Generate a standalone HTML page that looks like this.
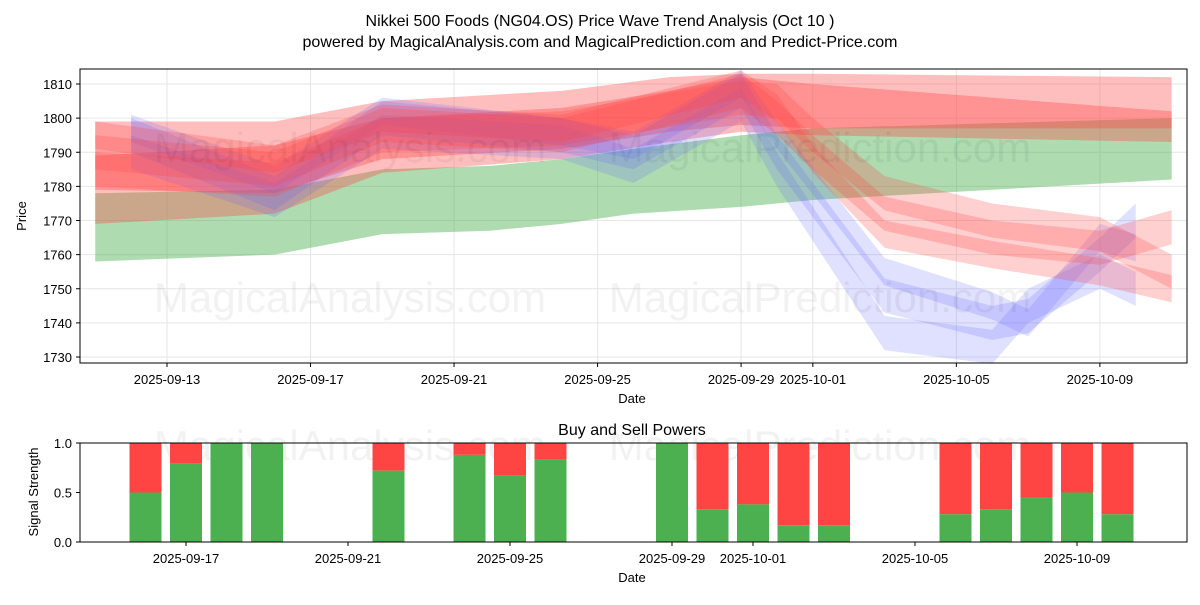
<!DOCTYPE html>
<html><head><meta charset="utf-8"><style>
body{margin:0;background:#fff;font-family:"Liberation Sans","DejaVu Sans",sans-serif}
</style></head><body>
<svg id="c" width="1200" height="600" xmlns="http://www.w3.org/2000/svg"></svg>
<script>
// ---- data ----
const topTickDays=[13,17,21,25,29,31,35,39];
const topTickLabels=["2025-09-13","2025-09-17","2025-09-21","2025-09-25","2025-09-29","2025-10-01","2025-10-05","2025-10-09"];
const priceTicks=[1730,1740,1750,1760,1770,1780,1790,1800,1810];
const greenDays=[11,16,19,22,24,26,29,31,41];
const greenLo=[1758,1760,1766,1767,1769,1772,1774,1776,1782];
const greenHi=[1778,1779,1785,1786,1788,1791,1795,1797,1800];
const redADays=[11,16,19,24,27,29,31,41];
const redALo=[1769,1772,1784,1788,1793,1796,1795,1793];
const redAHi=[1789,1792,1800,1803,1808,1812,1810,1802];
const redBLo=[1779,1778,1788,1791,1796,1798,1797,1797];
const redBHi=[1799,1799,1805,1808,1812,1813,1813,1812];
const redCDays=[11,16,19,24,29,30,31,33,36,39,41];
const redC=[1790,1785,1798,1795,1808,1800,1790,1772,1765,1762,1768];
const redD=[1785,1782,1795,1797,1806,1805,1795,1778,1770,1766,1755];
const redE=[1795,1788,1800,1797,1810,1803,1788,1766,1760,1755,1750];
const blueDays=[12,16,19,24,26,29,30,33,36,37,39,40];
const blueA=[1795,1778,1800,1795,1790,1808,1790,1748,1740,1742,1760,1770];
const blueB=[1790,1776,1796,1793,1786,1804,1785,1737,1733,1745,1755,1750];
const blueC=[1797,1782,1802,1796,1792,1810,1795,1755,1745,1740,1765,1762];
const barDays=[16,17,18,19,22,24,25,26,29,30,31,32,33,36,37,38,39,40];
const buyVals=[0.5,0.79,1.0,1.0,0.72,0.88,0.67,0.83,1.0,0.33,0.38,0.17,0.17,0.28,0.33,0.45,0.5,0.28];
const botTickDays=[17,21,25,29,31,35,39];
const sigTicks=[0,0.5,1.0];

const svg=document.getElementById('c');const NS='http://www.w3.org/2000/svg';
function el(t,a,txt){const e=document.createElementNS(NS,t);for(const k in a)e.setAttribute(k,a[k]);if(txt!==undefined)e.textContent=txt;svg.appendChild(e);return e;}
const tx=d=>167+(d-13)*35.88, ty=v=>357-(v-1730)*3.4125;
const bx=d=>186+(d-17)*40.5, by=v=>542-v*99;

let t=el('text',{x:600,y:26,'text-anchor':'middle','font-size':16},"Nikkei 500 Foods (NG04.OS) Price Wave Trend Analysis (Oct 10 )");

t=el('text',{x:600,y:47,'text-anchor':'middle','font-size':16},"powered by MagicalAnalysis.com and MagicalPrediction.com and Predict-Price.com");


priceTicks.forEach(v=>{const y=ty(v);el('line',{x1:80,x2:1187,y1:y,y2:y,stroke:'#e6e6e6'});el('line',{x1:76,x2:80,y1:y,y2:y,stroke:'#000'});
 const l=el('text',{x:72,y:y+5,'text-anchor':'end','font-size':13},v);});
topTickDays.forEach((d,i)=>{const x=tx(d);el('line',{x1:x,x2:x,y1:69,y2:363,stroke:'#e6e6e6'});el('line',{x1:x,x2:x,y1:363,y2:367,stroke:'#000'});
 const l=el('text',{x:x,y:384,'text-anchor':'middle','font-size':13},topTickLabels[i]);});

function band(days,lo,hi,color,op,name){let p=days.map((d,i)=>tx(d)+','+ty(hi[i]));for(let i=days.length-1;i>=0;i--)p.push(tx(days[i])+','+ty(lo[i]));
 const e=el('polygon',{points:p.join(' '),fill:color,'fill-opacity':op});}
function cband(days,c,hw,color,op,name){band(days,c.map(v=>v-hw),c.map(v=>v+hw),color,op,name);}
band(greenDays,greenLo,greenHi,'#4caf50',0.45,'green-band');
band(redADays,redALo,redAHi,'#ff4444',0.35,'red-band-a');
band(redADays,redBLo,redBHi,'#ff4444',0.35,'red-band-b');
cband(blueDays,blueA,5,'#6666ff',0.2,'blue-band-a');
cband(blueDays,blueB,5,'#6666ff',0.2,'blue-band-b');
cband(blueDays,blueC,4,'#6666ff',0.2,'blue-band-c');
cband(redCDays,redC,5,'#ff4444',0.25,'red-band-c');
cband(redCDays,redD,5,'#ff4444',0.25,'red-band-d');
cband(redCDays,redE,4,'#ff4444',0.25,'red-band-e');

[[350,162],[820,162],[350,312],[820,312],[350,460],[820,460]].forEach(([x,y],i)=>{const w=el('text',{x:x,y:y,'text-anchor':'middle','font-size':42,fill:'#000','fill-opacity':0.05},i%2?'MagicalPrediction.com':'MagicalAnalysis.com');});

el('rect',{x:80,y:69,width:1107,height:294,fill:'none',stroke:'#000'});
t=el('text',{x:632,y:403,'text-anchor':'middle','font-size':13},'Date');
t=el('text',{x:26,y:216,'text-anchor':'middle','font-size':13,transform:'rotate(-90 26 216)'},'Price');

t=el('text',{x:632,y:435,'text-anchor':'middle','font-size':16},'Buy and Sell Powers');
sigTicks.forEach(v=>{const y=by(v);el('line',{x1:76,x2:80,y1:y,y2:y,stroke:'#000'});
 const l=el('text',{x:72,y:y+5,'text-anchor':'end','font-size':13},v.toFixed(1));});
botTickDays.forEach((d,i)=>{const x=bx(d);el('line',{x1:x,x2:x,y1:542,y2:546,stroke:'#000'});
 const lab=topTickLabels[topTickDays.indexOf(d)];
 const l=el('text',{x:x,y:563,'text-anchor':'middle','font-size':13},lab);});
barDays.forEach((d,i)=>{const x=bx(d)-16,b=buyVals[i];
 const r=el('rect',{x:x,y:by(1),width:32,height:by(b)-by(1),fill:'#ff4444'});
 const g=el('rect',{x:x,y:by(b),width:32,height:by(0)-by(b),fill:'#4caf50'});});
el('rect',{x:80,y:443,width:1107,height:99,fill:'none',stroke:'#000'});
t=el('text',{x:632,y:582,'text-anchor':'middle','font-size':13},'Date');
t=el('text',{x:38,y:492,'text-anchor':'middle','font-size':13,transform:'rotate(-90 38 492)'},'Signal Strength');
</script>
</body></html>
